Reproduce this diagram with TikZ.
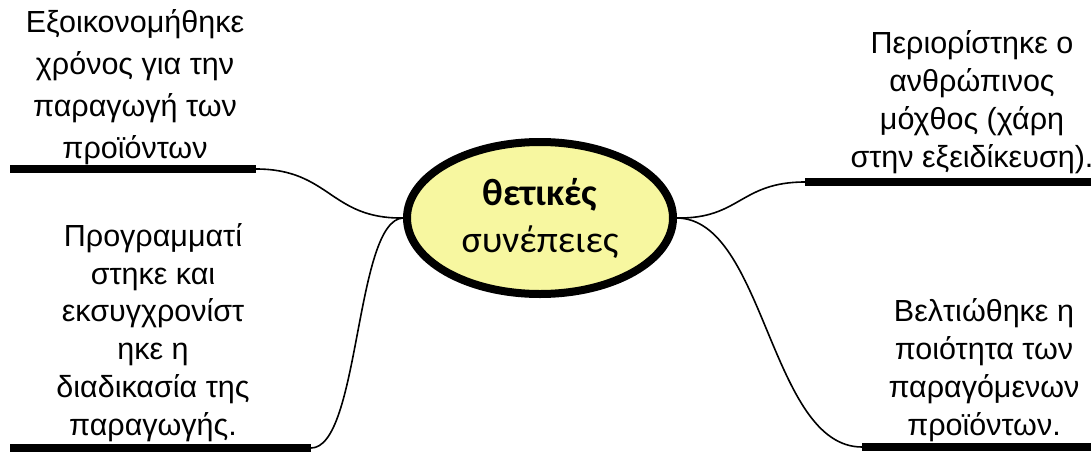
\documentclass[tikz,border=0pt]{standalone}
\usepackage{fontspec}
\setmainfont{Liberation Sans}
\newfontfamily\calibfont{Carlito}
\usepackage{xcolor}
\usepackage{tikz}
\usetikzlibrary{shapes,arrows,positioning,calc}

\definecolor{paleyellow}{RGB}{247,247,160}

\tikzset{
    leaf/.style={align=center, anchor=base, inner sep=0pt, font=\fontsize{30.5}{37.7}\selectfont},
    bar/.style={line width=8pt},
    link/.style={line width=1.6pt},
    hub/.style={ellipse, draw, line width=8pt, fill=paleyellow, minimum width=266pt, minimum height=152pt, inner sep=0pt, align=center, font=\calibfont\fontsize{38}{47}\selectfont}
}

\begin{document}
\begin{tikzpicture}[x=1pt, y=-1pt]
    \useasboundingbox (0,0) rectangle (1091,452);

    % Centre
    \node[hub] (centre) at (540,218) {\textbf{θετικές}\\συνέπειες};

    % Bars
    \coordinate (tlL) at (10,169);   \coordinate (tlR) at (256,169);
    \coordinate (blL) at (10,448);   \coordinate (blR) at (311,448);
    \coordinate (rtL) at (805,182);  \coordinate (rtR) at (1091,182);
    \coordinate (rbL) at (862,447);  \coordinate (rbR) at (1091,447);
    \draw[bar] (tlL) -- (tlR);
    \draw[bar] (blL) -- (blR);
    \draw[bar] (rtL) -- (rtR);
    \draw[bar] (rbL) -- (rbR);

    % Texts (anchored at the last line)
    \node[leaf, font=\fontsize{30.5}{41.7}\selectfont] (tlText) at (135,158) {Εξοικονομήθηκε\\χρόνος για την\\παραγωγή των\\προϊόντων};
    \node[leaf] (blText) at (153,435) {Προγραμματί\\στηκε και\\εκσυγχρονίστ\\ηκε η\\διαδικασία της\\παραγωγής.};
    \node[leaf] (rtText) at (972,167) {Περιορίστηκε ο\\ανθρώπινος\\μόχθος (χάρη\\στην εξειδίκευση).};
    \node[leaf] (rbText) at (984,435) {Βελτιώθηκε η\\ποιότητα των\\παραγόμενων\\προϊόντων.};

    % Links
    \draw[link] (centre.west) .. controls (330,219) and (330,169) .. (tlR);
    \draw[link] (centre.west) .. controls (355,220) and (360,448) .. (blR);
    \draw[link] (centre.east) .. controls (740,219) and (740,182) .. (rtL);
    \draw[link] (centre.east) .. controls (765,219) and (770,447) .. (rbL);
\end{tikzpicture}
\end{document}
